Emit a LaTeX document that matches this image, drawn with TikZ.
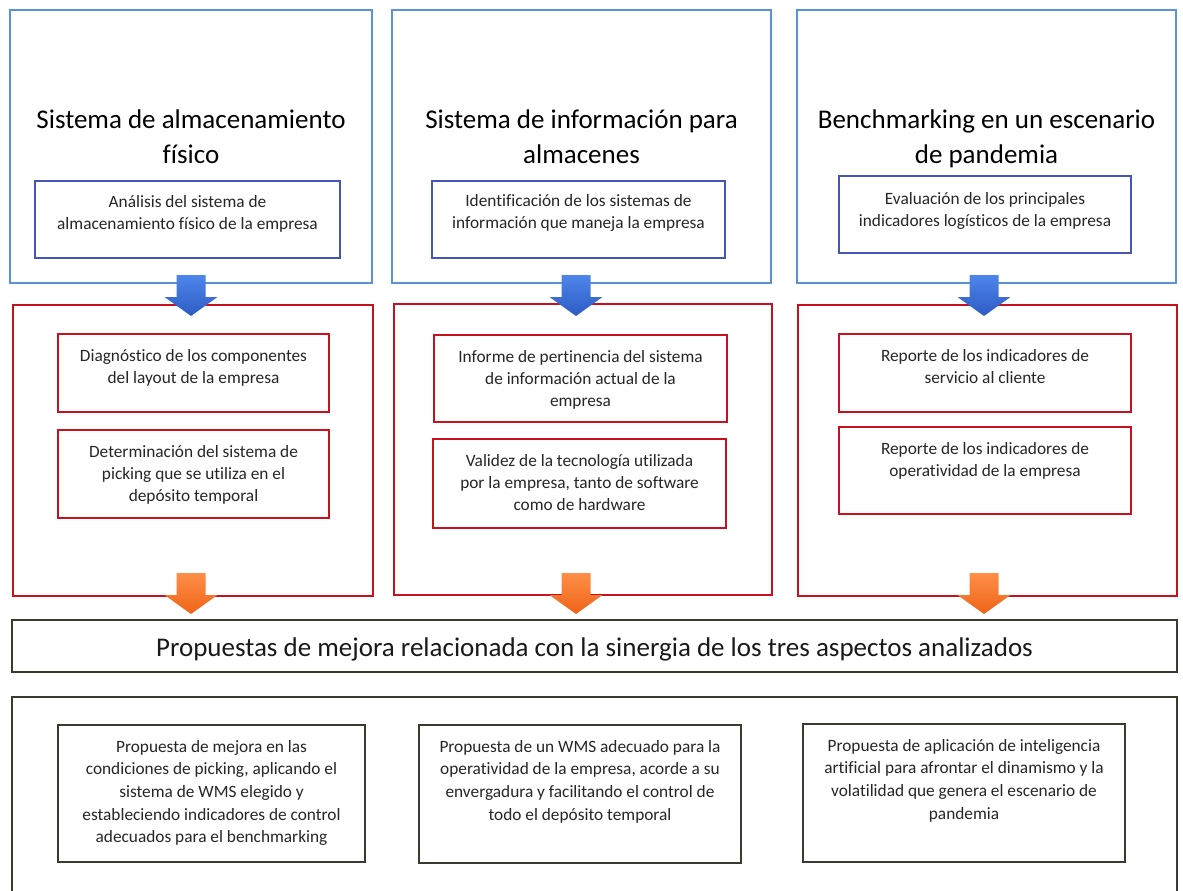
\documentclass[tikz,border=0pt]{standalone}
\usepackage{fontspec}
\setmainfont{Carlito}[Ligatures=NoCommon]
\definecolor{outerblue}{HTML}{5A92D4}
\definecolor{innerblue}{HTML}{4656B4}
\definecolor{boxred}{HTML}{C8101E}
\definecolor{boxdark}{HTML}{3A3A2E}
\definecolor{arrblueA}{HTML}{4F86EA}
\definecolor{arrblueB}{HTML}{2C5BC4}
\definecolor{arrorA}{HTML}{FF8E48}
\definecolor{arrorB}{HTML}{EE6418}

% framed box from its corners: style, x1, y1, x2, y2, name
\newcommand\frameat[6]{%
  \node[#1, anchor=north west, minimum width={#4-#2}, minimum height={#5-#3}] (#6) at (#2,#3) {};}
% block arrow pointing down: style, centre x, top y
\newcommand\blockarr[3]{%
  \path[#1] (#2-14.5,#3) -- (#2+14.5,#3) -- (#2+14.5,#3+22) -- (#2+26.5,#3+22)
    -- (#2,#3+41) -- (#2-26.5,#3+22) -- (#2-14.5,#3+22) -- cycle;}

\begin{document}
\begin{tikzpicture}[x=1pt,y=-1pt,
  frame/.style={inner sep=0pt, outer sep=0pt, fill=white},
  bluebox/.style={frame, draw=outerblue, line width=1.6pt},
  blueinner/.style={frame, draw=innerblue, line width=1.6pt},
  redbox/.style={frame, draw=boxred, line width=1.8pt},
  darkbox/.style={frame, draw=boxdark, line width=2.2pt},
  title/.style={inner sep=0pt, align=center, anchor=north, font=\fontsize{27}{35}\selectfont},
  body/.style={inner sep=0pt, align=center, anchor=north, font=\fontsize{17.3}{22}\selectfont, text=black!85},
  bodywide/.style={inner sep=0pt, align=center, anchor=north, font=\fontsize{17.3}{22.7}\selectfont, text=black!85},
  header/.style={inner sep=0pt, anchor=base, font=\fontsize{27}{33}\selectfont, text=black!90},
  bluearrow/.style={top color=arrblueA, bottom color=arrblueB},
  orangearrow/.style={top color=arrorA, bottom color=arrorB},
]
\useasboundingbox (0,0) rectangle (1183,891);
\clip (0,0) rectangle (1183,891);
\fill[white] (0,0) rectangle (1183,891);

% --- top row: the three aspects
\frameat{bluebox}{10}{10}{372}{283}{B1}
\frameat{bluebox}{392}{10}{771}{283}{B2}
\frameat{bluebox}{797}{10}{1176}{283}{B3}

\node[title] (B1t) at (B1.north |- 0,103.5) {\strut Sistema de almacenamiento\\físico};
\node[title] (B2t) at (B2.north |- 0,103.5) {\strut Sistema de información para\\almacenes};
\node[title] (B3t) at (B3.north |- 0,103.5) {\strut Benchmarking en un escenario\\de pandemia};

\frameat{blueinner}{35}{181}{340}{258}{I1}
\frameat{blueinner}{432}{181}{725}{258}{I2}
\frameat{blueinner}{839}{176}{1131}{253}{I3}

\node[body] (I1t) at (I1.north |- 0,192) {\strut Análisis del sistema de\\almacenamiento físico de la empresa};
\node[body] (I2t) at (I2.north |- 0,191) {\strut Identificación de los sistemas de\\información que maneja la empresa};
\node[body] (I3t) at (I3.north |- 0,189) {\strut Evaluación de los principales\\indicadores logísticos de la empresa};

% --- middle row: analysis results
\frameat{redbox}{13}{305}{373}{596}{R1}
\frameat{redbox}{394}{304}{772}{595}{R2}
\frameat{redbox}{798}{305}{1177}{596}{R3}

\frameat{redbox}{58}{334}{329}{412}{R1a}
\frameat{redbox}{58}{430}{329}{518}{R1b}
\frameat{redbox}{434}{335}{727}{422}{R2a}
\frameat{redbox}{433}{439}{726}{528}{R2b}
\frameat{redbox}{839}{334}{1131}{412}{R3a}
\frameat{redbox}{839}{427}{1131}{514}{R3b}

\node[body] (R1at) at (R1a.north |- 0,345.6) {\strut Diagnóstico de los componentes\\del layout de la empresa};
\node[body] (R1bt) at (R1b.north |- 0,441.6) {\strut Determinación del sistema de\\picking que se utiliza en el\\depósito temporal};
\node[body] (R2at) at (R2a.north |- 0,346.6) {\strut Informe de pertinencia del sistema\\de información actual de la\\empresa};
\node[body] (R2bt) at (R2b.north |- 0,450.6) {\strut Validez de la tecnología utilizada\\por la empresa, tanto de software\\como de hardware};
\node[body] (R3at) at (R3a.north |- 0,345.6) {\strut Reporte de los indicadores de\\servicio al cliente};
\node[body] (R3bt) at (R3b.north |- 0,438.6) {\strut Reporte de los indicadores de\\operatividad de la empresa};

% --- synthesis
\frameat{darkbox}{12}{620}{1177}{672}{P}
\node[header] (Pt) at (P.center |- 0,656) {Propuestas de mejora relacionada con la sinergia de los tres aspectos analizados};

\frameat{darkbox}{12}{697}{1177}{930}{L}
\frameat{darkbox}{58}{725}{365}{862}{C1}
\frameat{darkbox}{419}{725}{741}{863}{C2}
\frameat{darkbox}{803}{724}{1125}{862}{C3}

\node[bodywide] (C1t) at (C1.north |- 0,736.1) {\strut Propuesta de mejora en las\\condiciones de picking, aplicando el\\sistema de WMS elegido y\\estableciendo indicadores de control\\adecuados para el benchmarking};
\node[bodywide] (C2t) at (C2.north |- 0,736.1) {\strut Propuesta de un WMS adecuado para la\\operatividad de la empresa, acorde a su\\envergadura y facilitando el control de\\todo el depósito temporal};
\node[bodywide] (C3t) at (C3.north |- 0,735.1) {\strut Propuesta de aplicación de inteligencia\\artificial para afrontar el dinamismo y la\\volatilidad que genera el escenario de\\pandemia};

% --- flow arrows between the rows
\blockarr{bluearrow}{191}{275}
\blockarr{bluearrow}{576}{275}
\blockarr{bluearrow}{984}{275}
\blockarr{orangearrow}{191}{573}
\blockarr{orangearrow}{576}{573}
\blockarr{orangearrow}{984}{573}
\end{tikzpicture}
\end{document}
